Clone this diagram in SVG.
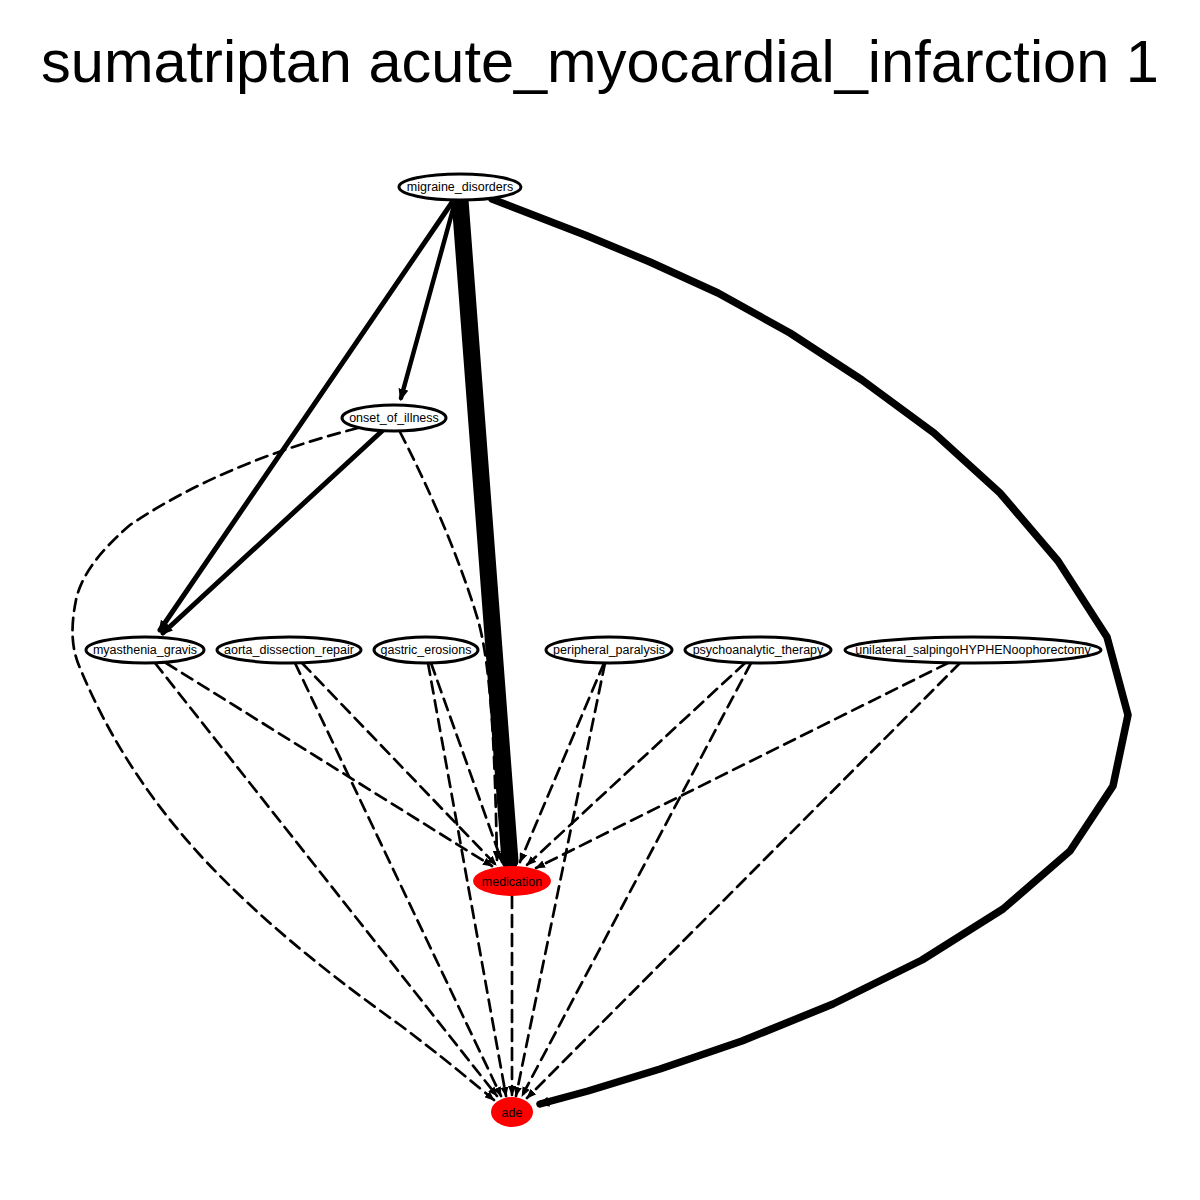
<svg xmlns="http://www.w3.org/2000/svg" width="1200" height="1200" viewBox="0 0 1200 1200">
<style>
.n ellipse{fill:#fff;stroke:#000;stroke-width:3}
.n.r ellipse{fill:#ff0000;stroke:none}
.n text{font-family:"Liberation Sans",Arial,sans-serif;font-size:12.5px;text-anchor:middle;fill:#000}
.e path{fill:none;stroke:#000;stroke-linecap:round;stroke-linejoin:round}
.d{stroke-width:2.7;stroke-dasharray:12 7}
.title{font-family:"Liberation Sans",Arial,sans-serif;font-size:59.5px;text-anchor:middle}
</style>
<defs>
<marker id="a" markerWidth="10" markerHeight="8" refX="9" refY="4" orient="auto" markerUnits="userSpaceOnUse"><path d="M0,0 L10,4 L0,8 z" fill="#000"/></marker>
<marker id="b" markerWidth="12" markerHeight="10" refX="9" refY="5" orient="auto" markerUnits="userSpaceOnUse"><path d="M0,0 L12,5 L0,10 z" fill="#000"/></marker>
</defs>
<rect width="1200" height="1200" fill="#fff"/>
<text class="title" x="600" y="82">sumatriptan acute_myocardial_infarction 1</text>
<g class="e" id="edges">
<path d="M460,200 L510,861" style="stroke-width:17"/>
<path d="M453,201 L160,630" style="stroke-width:5" marker-end="url(#b)"/>
<path d="M455,202 L401,398" style="stroke-width:4.5" marker-end="url(#b)"/>
<path d="M492,199 L585,235 L650,262 L718,293 L790,333 L862,380 L934,433 L1000,493 L1058,561 L1107,637 L1128,715 L1113,786 L1070,851 L1003,909 L922,960 L833,1004 L742,1041 L660,1069 L588,1091 L540,1104" style="stroke-width:7.5" marker-end="url(#b)"/>
<path d="M382,431 L163,633" style="stroke-width:5" marker-end="url(#b)"/>
<path class="d" d="M358,428 C280,448 200,478 130,525 C95,555 80,580 76,600 C70,630 72,650 80,668 C110,740 150,800 200,855 C260,920 330,975 400,1025 C440,1055 470,1080 494,1100" marker-end="url(#a)"/>
<path class="d" d="M400,432 C430,490 460,560 478,620 C492,670 495,760 497,860" marker-end="url(#a)"/>
<path class="d" d="M166,663 L492,866" marker-end="url(#a)"/>
<path class="d" d="M155,663 L497,1096" marker-end="url(#a)"/>
<path class="d" d="M302,663 L496,865" marker-end="url(#a)"/>
<path class="d" d="M295,663 L501,1096" marker-end="url(#a)"/>
<path class="d" d="M431,663 L502,862" marker-end="url(#a)"/>
<path class="d" d="M428,663 L506,1096" marker-end="url(#a)"/>
<path class="d" d="M604,663 L520,862" marker-end="url(#a)"/>
<path class="d" d="M605,663 L516,1096" marker-end="url(#a)"/>
<path class="d" d="M745,663 L527,865" marker-end="url(#a)"/>
<path class="d" d="M751,663 L522,1096" marker-end="url(#a)"/>
<path class="d" d="M948,663 L536,868" marker-end="url(#a)"/>
<path class="d" d="M960,663 L527,1098" marker-end="url(#a)"/>
<path class="d" d="M512,896 L512,1095" marker-end="url(#a)"/>
</g>
<g class="n" id="migraine_disorders"><ellipse cx="460" cy="187" rx="61" ry="13"/><text x="460" y="191">migraine_disorders</text></g>
<g class="n" id="onset_of_illness"><ellipse cx="394" cy="418" rx="52" ry="13"/><text x="394" y="422">onset_of_illness</text></g>
<g class="n" id="myasthenia_gravis"><ellipse cx="145" cy="650" rx="59" ry="13"/><text x="145" y="654">myasthenia_gravis</text></g>
<g class="n" id="aorta_dissection_repair"><ellipse cx="289" cy="650" rx="72" ry="13"/><text x="289" y="654">aorta_dissection_repair</text></g>
<g class="n" id="gastric_erosions"><ellipse cx="426" cy="650" rx="52" ry="13"/><text x="426" y="654">gastric_erosions</text></g>
<g class="n" id="peripheral_paralysis"><ellipse cx="609" cy="650" rx="63" ry="13"/><text x="609" y="654">peripheral_paralysis</text></g>
<g class="n" id="psychoanalytic_therapy"><ellipse cx="758" cy="650" rx="73" ry="13"/><text x="758" y="654">psychoanalytic_therapy</text></g>
<g class="n" id="unilateral_salpingoHYPHENoophorectomy"><ellipse cx="973" cy="650" rx="128" ry="13"/><text x="973" y="654">unilateral_salpingoHYPHENoophorectomy</text></g>
<g class="n r" id="medication"><ellipse cx="512" cy="881" rx="39" ry="15"/><text x="512" y="886">medication</text></g>
<g class="n r" id="ade"><ellipse cx="512" cy="1112" rx="21" ry="15"/><text x="512" y="1117">ade</text></g>
</svg>
